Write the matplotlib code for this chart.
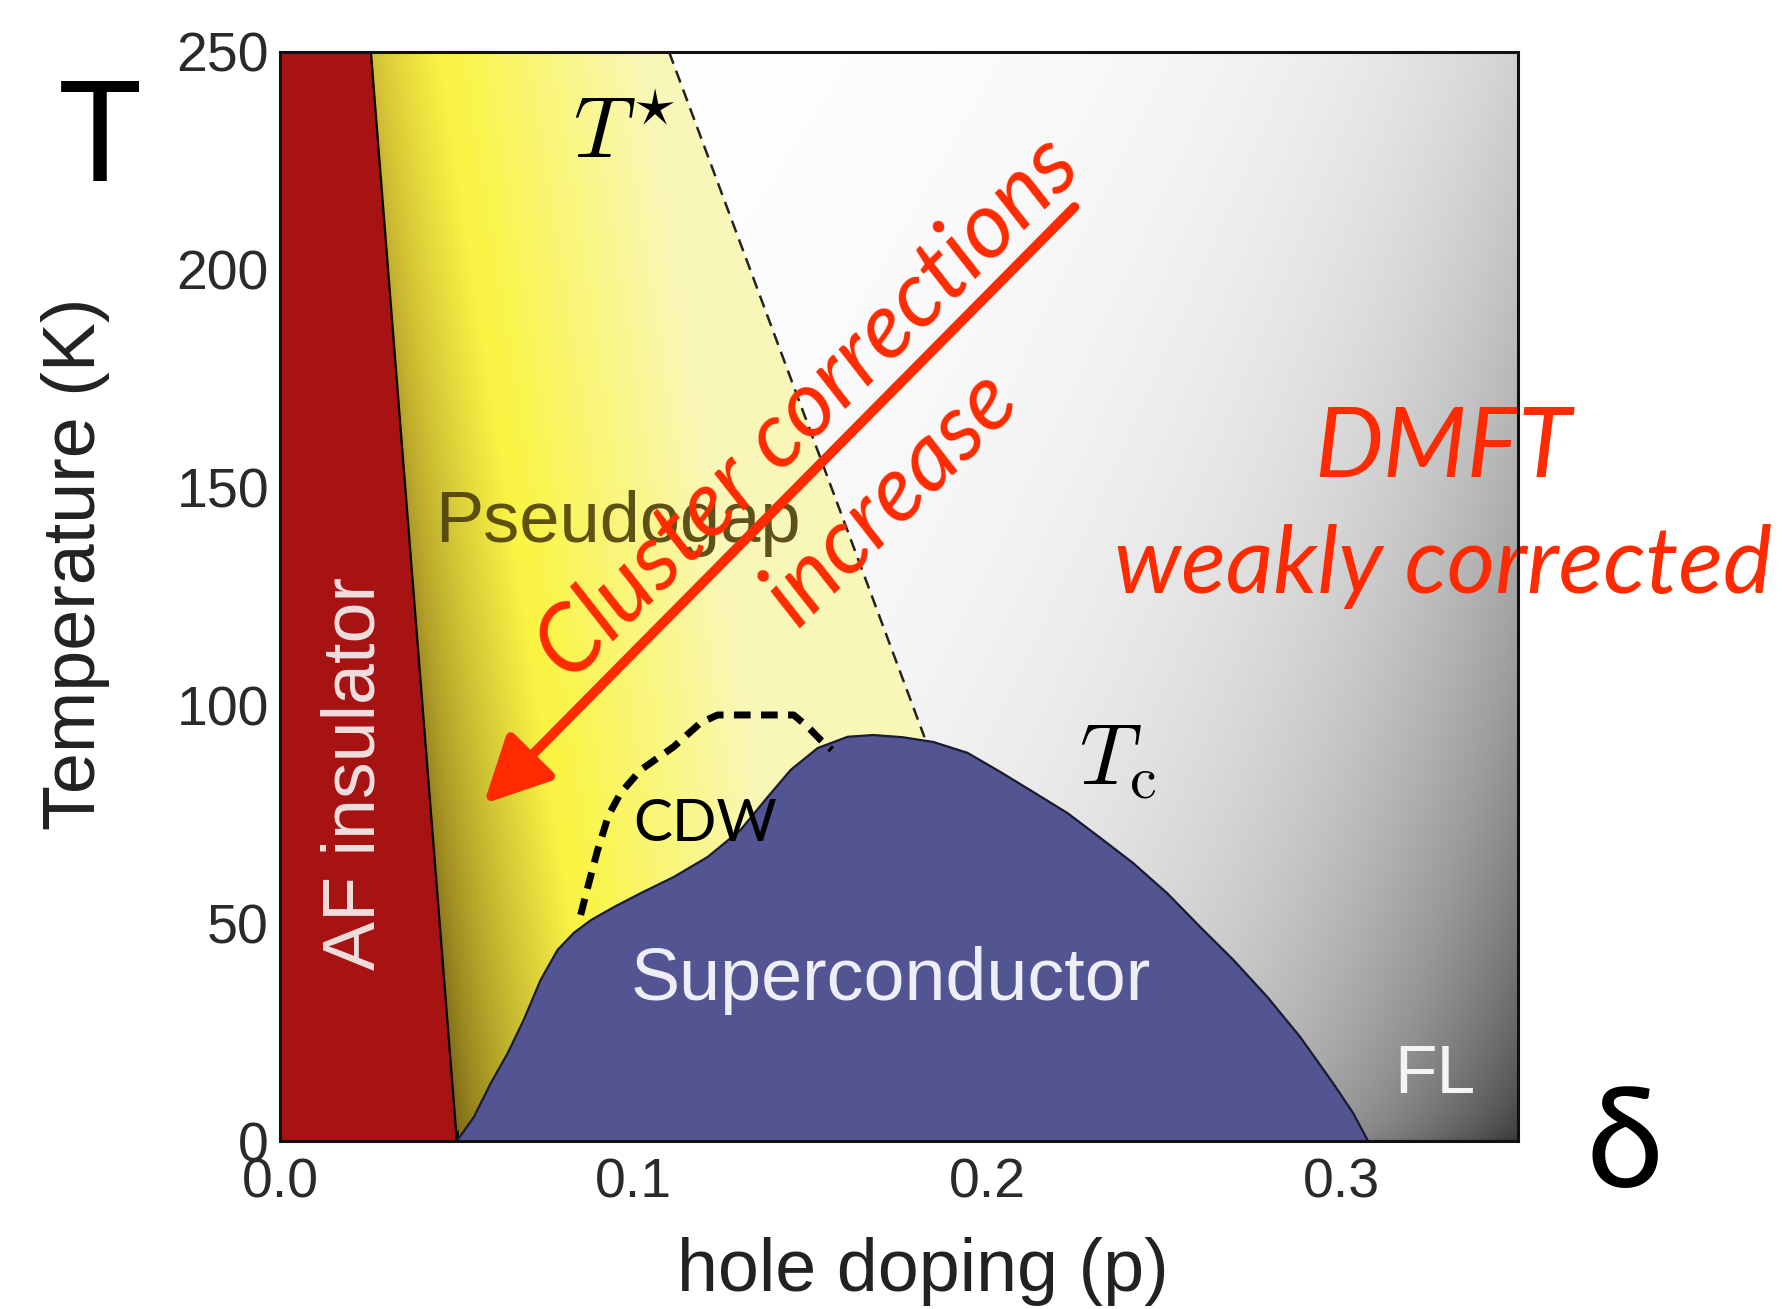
import numpy as np
import matplotlib
matplotlib.use("Agg")
import matplotlib.pyplot as plt
from matplotlib.patches import Polygon

# Phase boundaries: hole doping p vs temperature (K)
af_p = [0.0257, 0.0500]
af_T = [250, 0]

tstar_p = [0.110, 0.1822]
tstar_T = [250, 92.7]

tc_p = [0.0500, 0.0548, 0.0596, 0.0644, 0.0689, 0.0737, 0.0785, 0.0831, 0.0879,
        0.0944, 0.1020, 0.1113, 0.1209, 0.1302, 0.1379, 0.1444, 0.1520, 0.1605,
        0.1678, 0.1760, 0.1847, 0.1944, 0.2037, 0.2130, 0.2226, 0.2319, 0.2412,
        0.2508, 0.2602, 0.2695, 0.2791, 0.2884, 0.2977, 0.3034, 0.3076]
tc_T = [0, 5.5, 13.3, 20.2, 27.8, 37.0, 43.9, 47.8, 50.7,
        53.7, 56.9, 60.6, 65.2, 71.4, 79.0, 85.2, 90.2, 92.8,
        93.2, 92.7, 91.6, 89.1, 84.7, 80.1, 75.3, 69.6, 63.8,
        56.9, 49.1, 41.6, 33.1, 23.9, 13.3, 6.4, 0]

cdw_p = [0.0850, 0.0873, 0.0898, 0.0929, 0.0963, 0.1020, 0.1113, 0.1189, 0.1237,
         0.1452, 0.1492, 0.1528, 0.1560]
cdw_T = [51.9, 59.2, 66.8, 74.8, 79.9, 85.2, 90.5, 96.0, 97.8,
         97.8, 95.1, 92.1, 89.8]

x_ticks = [0.0, 0.1, 0.2, 0.3]
x_ticklabels = ["0.0", "0.1", "0.2", "0.3"]
y_ticks = [0, 50, 100, 150, 200, 250]
P_MAX, T_MAX = 0.35, 250

fig = plt.figure(figsize=(17.82, 13.09), dpi=100)
ax = fig.add_axes([280 / 1782, 1 - 1141 / 1309, 1238 / 1782, 1089 / 1309])
ax.set_xlim(0, P_MAX)
ax.set_ylim(0, T_MAX)

# shading grids
xs = np.linspace(0, P_MAX, 800)
ys = np.linspace(0, T_MAX, 600)
X, Y = np.meshgrid(xs, ys)
ext = (0, P_MAX, 0, T_MAX)
h = Y / T_MAX

# pseudogap: olive along the AF boundary -> bright yellow -> pale yellow
xa = af_p[1] + (af_p[0] - af_p[1]) * h
d = X - xa
s1 = 0.042 - 0.022 * h
t1 = np.clip(d / s1, 0, 1) ** 0.75
t2 = np.clip((d - 1.1 * s1) / 0.055, 0, 1)
dark_lo = np.array([0.48, 0.40, 0.08])
dark_hi = np.array([0.82, 0.74, 0.20])
dark = dark_lo + (dark_hi - dark_lo) * h[..., None]
bright = np.array([0.98, 0.96, 0.27])
pale = np.array([0.98, 0.97, 0.72])
yel = dark + (bright - dark) * t1[..., None]
yel = yel + (pale - yel) * t2[..., None]

# normal state: white fading to grey toward the high-doping edge,
# darkest at low temperature
dx = P_MAX - X
depth = 0.80 - 0.62 * np.sqrt(h)
width = 0.09 - 0.03 * h
g = 1 - depth * np.exp(-dx / width)
gry = np.repeat(g[..., None], 3, axis=2)

pg_poly = Polygon([(af_p[0], af_T[0]), (tstar_p[0], tstar_T[0]),
                   (tstar_p[1], tstar_T[1]), (tstar_p[1], 0), (af_p[1], 0)],
                  closed=True, transform=ax.transData, facecolor="none")
fl_poly = Polygon([(tstar_p[0], tstar_T[0]), (P_MAX, T_MAX), (P_MAX, 0),
                   (tstar_p[1], 0), (tstar_p[1], tstar_T[1])],
                  closed=True, transform=ax.transData, facecolor="none")
im1 = ax.imshow(yel, extent=ext, origin="lower", aspect="auto", zorder=1,
                interpolation="bilinear")
im1.set_clip_path(pg_poly)
im2 = ax.imshow(gry, extent=ext, origin="lower", aspect="auto", zorder=1,
                interpolation="bilinear")
im2.set_clip_path(fl_poly)

# antiferromagnetic insulator
ax.fill([0, af_p[0], af_p[1], 0], [T_MAX, af_T[0], af_T[1], 0],
        color="#a71313", zorder=2, lw=0)
ax.plot(af_p, af_T, color="black", lw=1.6, zorder=4)

# superconducting dome
ax.fill(tc_p, tc_T, color="#535592", zorder=3, lw=0)
ax.plot(tc_p, tc_T, color="#1a1a30", lw=1.6, zorder=4)

# T* crossover and CDW
ax.plot(tstar_p, tstar_T, color="#222222", lw=1.8, ls=(0, (5, 3)), zorder=4)
ax.plot(cdw_p, cdw_T, color="black", lw=5, ls=(0, (2.4, 1.5)), zorder=5)

ax.set_xlim(0, P_MAX)
ax.set_ylim(0, T_MAX)

# axes styling
for sp in ax.spines.values():
    sp.set_linewidth(2.2)
    sp.set_color("#111111")
    sp.set_zorder(10)
ax.set_xticks(x_ticks)
ax.set_xticklabels(x_ticklabels)
ax.set_xticks(np.arange(0.05, P_MAX, 0.1), minor=True)
ax.set_yticks(y_ticks)
ax.set_yticks(np.arange(25, T_MAX, 50), minor=True)
ax.tick_params(which="both", direction="in", top=False, right=False,
               color="#111111", width=2)
ax.tick_params(which="major", length=14)
ax.tick_params(which="minor", length=8)
ax.tick_params(axis="y", labelsize=40, pad=8, labelcolor="#2a2a2a")
ax.tick_params(axis="x", labelsize=40, pad=12, labelcolor="#2a2a2a")
for lab in ax.get_xticklabels() + ax.get_yticklabels():
    lab.set_family("Liberation Sans")

ax.text(-0.165, 0.53, "Temperature (K)", transform=ax.transAxes, rotation=90,
        ha="center", va="center", fontsize=53, family="Liberation Sans",
        color="#222222")
ax.text(0.519, -0.12, "hole doping (p)", transform=ax.transAxes,
        ha="center", va="center", fontsize=53, family="Liberation Sans",
        color="#222222")

# region labels
ax.text(0.0956, 141.7, "Pseudogap", ha="center", va="center", fontsize=52,
        family="Liberation Sans", color="#4d3f0a", alpha=0.9, zorder=6)
ax.text(0.0212, 84.3, "AF insulator", ha="center", va="center", fontsize=53,
        rotation=90, family="Liberation Sans", color="#f0dede", zorder=6)
ax.text(0.1726, 36.8, "Superconductor", ha="center", va="center", fontsize=53,
        family="Liberation Sans", color="#eeeef6", zorder=6)
ax.text(0.3266, 15.1, "FL", ha="center", va="center", fontsize=50,
        family="Liberation Sans", color="#f4f4f4", zorder=6)
ax.text(0.0972, 231, r"$T^{\star}$", ha="center", va="center", fontsize=62,
        math_fontfamily="cm", zorder=6)
ax.text(0.2368, 87.4, r"$T_{\rm c}$", ha="center", va="center", fontsize=62,
        math_fontfamily="cm", zorder=6)
ax.text(0.1203, 72.6, "CDW", ha="center", va="center", fontsize=42,
        family="Lato", color="black", zorder=6)

# cluster-correction annotation
red = "#ff2a00"
ax.annotate("", xy=(0.0576, 77.4), xytext=(0.2246, 214.4),
            arrowprops=dict(arrowstyle="-|>,head_length=1.0,head_width=0.5",
                            mutation_scale=40, color=red, lw=7,
                            shrinkA=0, shrinkB=0),
            zorder=7)
ax.text(0.1494, 168, "Cluster corrections", ha="center", va="center",
        rotation=45, fontsize=67, family="Lato", style="italic", color=red,
        zorder=8)
ax.text(0.1726, 147.9, "increase", ha="center", va="center",
        rotation=45, fontsize=67, family="Lato", style="italic", color=red,
        zorder=8)
ax.text(0.3288, 158.7, "DMFT", ha="center", va="center", fontsize=70,
        family="Lato", style="italic", color=red, zorder=8, clip_on=False)
ax.text(0.3288, 132, "weakly corrected", ha="center", va="center",
        fontsize=67, family="Lato", style="italic", color=red, zorder=8,
        clip_on=False)

fig.text(0.056, 0.892, "T", ha="center", va="center", fontsize=100,
         family=["Lato", "DejaVu Sans"], color="black")
fig.text(0.912, 0.123, "δ", ha="center", va="center", fontsize=100,
         family=["Lato", "DejaVu Sans"], color="black")

fig.savefig("out.png", dpi=100)
